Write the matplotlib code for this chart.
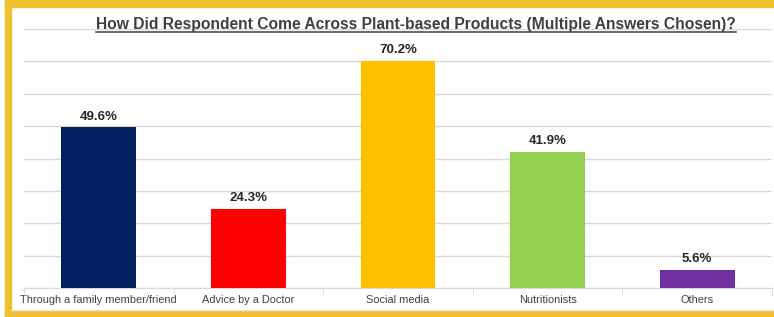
import matplotlib
matplotlib.use("Agg")
import matplotlib.pyplot as plt
from matplotlib.patches import Rectangle
from matplotlib.lines import Line2D

categories = ["Through a family member/friend", "Advice by a Doctor", "Social media",
              "Nutritionists", "Others"]
values = [49.6, 24.3, 70.2, 41.9, 5.6]
colors = ["#002060", "#FF0000", "#FFC000", "#92D050", "#7030A0"]
title = "How Did Respondent Come Across Plant-based Products (Multiple Answers Chosen)?"

plt.rcParams['font.family'] = ['Liberation Sans', 'DejaVu Sans']

W, H = 774, 317
fig = plt.figure(figsize=(W / 100, H / 100), dpi=100)
fig.patch.set_facecolor("white")

def fx(px):
    return px / W

def fy(py):
    return 1 - py / H

# yellow frame
border = "#EFC12F"
fig.patches.append(Rectangle((fx(5), fy(7)), 1, 7 / H, transform=fig.transFigure, color=border, zorder=0))
fig.patches.append(Rectangle((fx(5), 0), 6 / W, 1, transform=fig.transFigure, color=border, zorder=0))
fig.patches.append(Rectangle((fx(5), 0), 1, 6 / H, transform=fig.transFigure, color=border, zorder=0))
fig.lines.append(Line2D([fx(11), 1], [fy(309.5), fy(309.5)], transform=fig.transFigure, color="#e6e6e6", lw=1))

ax = fig.add_axes([fx(24), fy(288), fx(772) - fx(24), (288 - 29) / H])
x = list(range(len(categories)))
bars = ax.bar(x, values, width=0.5, color=colors, zorder=3)
ax.set_xlim(-0.5, len(categories) - 0.5)
ax.set_ylim(0, 80)
ax.set_yticks(range(0, 81, 10))
ax.yaxis.grid(True, color="#d9d9d9", lw=1)
ax.set_axisbelow(True)
ax.tick_params(axis="y", length=0, labelleft=False)
for s in ["left", "right", "top"]:
    ax.spines[s].set_visible(False)
ax.spines["bottom"].set_color("#d9d9d9")
ax.set_xticks(x)
ax.set_xticklabels(categories, fontsize=7.9, color="#404040")
ax.tick_params(axis="x", length=0, pad=5)
ax.set_xticks([i - 0.5 for i in range(len(categories) + 1)], minor=True)
ax.tick_params(axis="x", which="minor", length=5, color="#d9d9d9")

for b, v in zip(bars, values):
    ax.annotate(f"{v:.1f}%", (b.get_x() + b.get_width() / 2, v), xytext=(0, 3.5),
                textcoords="offset points", ha="center", va="bottom",
                fontsize=9.5, fontweight="bold", color="#262626")

t = fig.text(fx(416), fy(29), title, ha="center", va="baseline", fontsize=11.25,
             fontweight="bold", color="#404040")
fig.canvas.draw()
bb = t.get_window_extent()
fig.lines.append(Line2D([bb.x0 / W, bb.x1 / W], [fy(31.5), fy(31.5)],
                        transform=fig.transFigure, color="#404040", lw=1.1))

fig.savefig("out.png", dpi=100)
